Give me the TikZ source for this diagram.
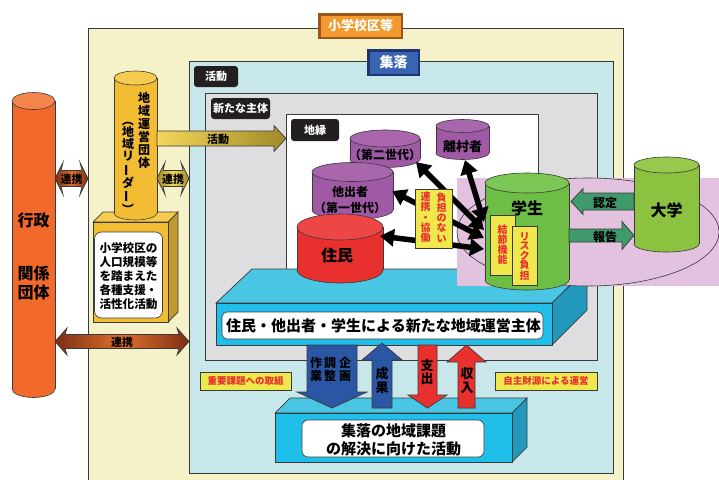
\documentclass[tikz,border=0pt]{standalone}
\usepackage{fontspec}
\setmainfont{Noto Sans CJK JP}
\usepackage{graphicx}
\usetikzlibrary{arrows.meta}
\definecolor{bgY}{HTML}{F5F2C9}
\definecolor{bgB}{HTML}{C8E7EB}
\definecolor{bgG}{HTML}{DEDEE0}
\definecolor{lineC}{HTML}{3A3A3A}
\definecolor{cOr}{HTML}{F2692C}
\definecolor{cOrT}{HTML}{F4844B}
\definecolor{cGold}{HTML}{F2BD33}
\definecolor{cGoldT}{HTML}{F7CB4C}
\definecolor{cGoldS}{HTML}{C09A2E}
\definecolor{cRed}{HTML}{E8302E}
\definecolor{cRedT}{HTML}{EE4545}
\definecolor{cPur}{HTML}{A05AA5}
\definecolor{cPurT}{HTML}{A866AC}
\definecolor{cGrn}{HTML}{6EBE45}
\definecolor{cGrnT}{HTML}{7CC655}
\definecolor{cGrnB}{HTML}{8DC140}
\definecolor{cGrnBT}{HTML}{98C84E}
\definecolor{cPink}{HTML}{E2C2DE}
\definecolor{cCy}{HTML}{1FBFE9}
\definecolor{cCyT}{HTML}{49C6E3}
\definecolor{cCyS}{HTML}{2298BD}
\definecolor{cArrG}{HTML}{3F9B6C}
\definecolor{cBlue}{HTML}{2A56A3}
\definecolor{cRedA}{HTML}{E8312F}
\definecolor{cY}{HTML}{EEE84C}
\definecolor{cLbl}{HTML}{231F20}
\definecolor{cBrD}{HTML}{7A2E14}
\definecolor{cBrM}{HTML}{E0702E}
\definecolor{cGoD}{HTML}{A08A2A}
\definecolor{cGoM}{HTML}{F3D65A}
\definecolor{cOrL}{HTML}{F39A2E}
\definecolor{cOrD}{HTML}{9A561C}
\definecolor{cBlL}{HTML}{3A63B1}
\definecolor{cBlD}{HTML}{1E3570}

\newcommand\fs[2]{\fontsize{#1}{#2}\selectfont\bfseries}
\newcommand\vbar{\rotatebox[origin=c]{90}{ー}}
\newcommand\vlp{\rotatebox[origin=c]{-90}{（}}
\newcommand\vrp{\rotatebox[origin=c]{-90}{）}}
% cylinder: cx, topcy, botcy, rx, ry, body, top
\newcommand\cyl[7]{%
  \fill[#6,draw=lineC,line width=0.6pt] (#1,#3) ellipse[x radius=#4,y radius=#5];
  \fill[#6] (#1-#4,#2) rectangle (#1+#4,#3);
  \draw[lineC,line width=0.6pt] (#1-#4,#2) -- (#1-#4,#3) (#1+#4,#2) -- (#1+#4,#3);
  \fill[#7,draw=lineC,line width=0.6pt] (#1,#2) ellipse[x radius=#4,y radius=#5];
}
% horizontal double arrow: x1,x2,yc,bh,hh,hl, style
\newcommand\harrD[7]{%
  \path[#7] (#1,#3) -- (#1+#6,#3-#5) -- (#1+#6-2,#3-#4) -- (#2-#6+2,#3-#4) -- (#2-#6,#3-#5) -- (#2,#3)
   -- (#2-#6,#3+#5) -- (#2-#6+2,#3+#4) -- (#1+#6-2,#3+#4) -- (#1+#6,#3+#5) -- cycle;
}
% horizontal single arrow: xstart, xtip, yc, bh, hh, hl (signed), style
\newcommand\harrS[7]{%
  \path[#7] (#1,#3-#4) -- (#2-#6,#3-#4) -- (#2-#6,#3-#5) -- (#2,#3) -- (#2-#6,#3+#5) -- (#2-#6,#3+#4) -- (#1,#3+#4) -- cycle;
}
% vertical single arrow: xc, ystart, ytip, bw, hw, hl(signed), style
\newcommand\varrS[7]{%
  \path[#7] (#1-#4,#2) -- (#1-#4,#3-#6) -- (#1-#5,#3-#6) -- (#1,#3) -- (#1+#5,#3-#6) -- (#1+#4,#3-#6) -- (#1+#4,#2) -- cycle;
}

\tikzset{
  ln/.style={draw=lineC,line width=0.7pt},
  blk/.style={fill=cLbl,rounded corners=3pt,text=white,font=\fs{11}{11},inner sep=0pt},
  ytag/.style={fill=cY,draw=lineC,line width=0.6pt,text=cRed,font=\fs{9.5}{10},inner sep=0pt},
  ctext/.style={font=\fs{#1}{#1},text=black,inner sep=0pt,align=center},
  ctext/.default=12,
  bigarr/.style={line width=5.5pt,{Triangle[length=14pt,width=17pt]}-{Triangle[length=14pt,width=17pt]}},
}

\begin{document}
\begin{tikzpicture}[x=1pt,y=-1pt]
\useasboundingbox (0,0) rectangle (719,479);
% nested areas
\path[ln,fill=bgY] (88,28) rectangle (623,486);
\path[ln,fill=bgB] (189,61) rectangle (613,473);
\path[ln,fill=bgG] (205,93) rectangle (597,360);
\path[ln,fill=white] (286,114) rectangle (538,300);

% area labels
\fill[cOrD] (318,13) rectangle (403,39);
\fill[cOrL] (320.5,15.5) rectangle (400.5,36.5);
\node[font=\fs{13}{13},text=white,inner sep=0pt] (lshogaku) at (360.5,26) {小学校区等};
\fill[cBlD] (367,49) rectangle (420,76);
\fill[cBlL] (369.5,51.5) rectangle (417.5,73.5);
\node[font=\fs{14}{14},text=white,inner sep=0pt] (lshuraku) at (393.5,62.5) {集落};
\node[blk,minimum width=44pt,minimum height=21pt] (lkatsudo) at (216,76.5) {活動};
\node[blk,minimum width=59pt,minimum height=21pt] (larata) at (240.5,108.5) {新たな主体};
\node[blk,minimum width=48pt,minimum height=22pt] (lchien) at (315,130) {地縁};

% 行政 cylinder
\cyl{33.5}{101}{389}{21.5}{8.5}{cOr}{cOrT}
\node[ctext=16] (gyosei) at (33.5,220) {行政};
\node[ctext=16,font=\fs{16}{19}] (kankei) at (33.5,283) {関係\\団体};

% gold box under leader cylinder
\path[ln,fill=cGoldT] (93,222) -- (103,212) -- (178,212) -- (168,222) -- cycle;
\path[ln,fill=cGoldS] (168,222) -- (178,212) -- (178,312) -- (168,322) -- cycle;
\path[ln,fill=cGold] (93,222) rectangle (168,322);
\node[draw=lineC,line width=0.6pt,fill=white,rounded corners=7pt,minimum width=68pt,minimum height=86pt,inner sep=0pt] (shienbox) at (128.5,275) {};
\node[ctext,font=\fs{11.6}{14}] (shien) at (128.5,276.5) {小学校区の\\人口規模等\\を踏まえた\\各種支援・\\活性化活動};

% leader cylinder
\cyl{135.5}{78}{213}{21.5}{7}{cGold}{cGoldT}
\node[ctext,font=\fs{12}{13}] (dantai) at (144,130.5) {地\\域\\運\\営\\団\\体};
\node[ctext,font=\fs{12}{12}] (leader) at (128,165) {\vlp\\地\\域\\リ\\\vbar\\ダ\\\vbar\\\vrp};

% 連携 arrows
\harrD{55}{88}{178.5}{8}{16}{8}{ln,left color=cBrD,right color=cBrD,middle color=cBrM}
\node[ctext=11] (renkei1) at (71.5,179) {連携};
\harrD{157}{189}{178.5}{8}{16}{8}{ln,left color=cGoD,right color=cGoD,middle color=cGoM}
\node[ctext=11] (renkei2) at (173,179) {連携};
\harrD{55}{189}{341.5}{7}{13.5}{12}{ln,left color=cBrD,right color=cBrD,middle color=cBrM}
\node[ctext=11] (renkei3) at (122,342) {連携};

% 活動 arrow
\harrS{157}{286}{138.5}{7.5}{13}{12}{ln,left color=cGoM,right color=cGoD}
\node[ctext=11] (katsudoA) at (218,139) {活動};

% big platform
\path[ln,fill=cCyT] (216,303) -- (252,269) -- (587,269) -- (552,303) -- cycle;
\path[ln,fill=cCyS] (552,303) -- (587,269) -- (587,310) -- (552,345) -- cycle;
\path[ln,fill=cCy] (216,303) rectangle (552,345);
\node[draw=lineC,line width=0.6pt,fill=white,rounded corners=5pt,minimum width=321pt,minimum height=27pt,inner sep=0pt] (mainlbl) at (382.5,325.5) {};
\node[ctext=15] (maintxt) at (383.5,326) {住民・他出者・学生による新たな地域運営主体};

% pink region & ellipse
\fill[cPink] (457,178) rectangle (719,286);
\draw[lineC,line width=0.6pt] (588,232) ellipse[x radius=131,y radius=54];

% local cylinders
\cyl{385}{138.5}{159}{35}{8.5}{cPur}{cPurT}
\node[ctext=12] (dai2) at (385,155) {（第二世代）};
\cyl{462.5}{126}{153}{26.5}{6.5}{cPur}{cPurT}
\node[ctext=13] (rison) at (462.5,146.5) {離村者};
\cyl{352.5}{172}{210}{40.5}{9.5}{cPur}{cPurT}
\node[ctext,font=\fs{12}{15.5}] (tashutsu) at (350,200) {他出者\\（第一世代）};
\cyl{340}{227}{270}{43}{13}{cRed}{cRedT}
\node[ctext=16] (jumin) at (337,255.5) {住民};
\cyl{527}{183}{280}{42}{10}{cGrn}{cGrnT}
\node[ctext=16] (gakusei) at (527,208.5) {学生};
\cyl{666.5}{165}{244}{32.5}{8}{cGrnB}{cGrnBT}
\node[ctext=16] (daigaku) at (666.5,210.5) {大学};

% green arrows between student and university
\harrS{634}{571}{201.5}{8.5}{13}{-12}{ln,fill=cArrG}
\node[ctext=12] (nintei) at (605,203) {認定};
\harrS{569}{634}{235.5}{6.5}{14}{12}{ln,fill=cArrG}
\node[ctext=12] (hokoku) at (605,237) {報告};

% student inner boxes
\node[ytag,minimum width=25pt,minimum height=60pt] (kessetsuB) at (502.5,245) {};
\node[ctext,font=\fs{10}{10},text=cRed] (kessetsu) at (502.5,245) {結\\節\\機\\能};
\node[ytag,minimum width=25pt,minimum height=59pt] (riskB) at (524.5,255.5) {};
\node[ctext,font=\fs{10}{9.5},text=cRed] (risk) at (524.5,256.5) {リ\\ス\\ク\\負\\担};

% connection arrows
\coordinate (eR) at (465,160);
\coordinate (e2) at (416,162);
\coordinate (e1) at (392,191);
\coordinate (eJ) at (380,236);
\coordinate (sA) at (484,222);
\coordinate (sB) at (484,230);
\coordinate (sC) at (484,238);
\coordinate (sD) at (484,249);
\draw[bigarr] (eR) -- (sA);
\draw[bigarr] (e2) -- (sB);
\draw[bigarr] (e1) -- (sC);
\draw[bigarr] (eJ) -- (sD);

% 負担のない box
\node[ytag,minimum width=37pt,minimum height=59pt] (futanB) at (433.5,218.5) {};
\node[ctext,font=\fs{10}{10.3},text=cRed] (futan) at (441.5,217.5) {負\\担\\の\\な\\い};
\node[ctext,font=\fs{10}{10.3},text=cRed] (renkeiK) at (425.5,217.5) {連\\携\\・\\協\\働};

% bottom platform
\path[ln,fill=cCyT] (275,413) -- (290,398) -- (527,398) -- (512,413) -- cycle;
\path[ln,fill=cCyS] (512,413) -- (527,398) -- (527,447) -- (512,462) -- cycle;
\path[ln,fill=cCy] (275,413) rectangle (512,462);
\node[draw=lineC,line width=0.6pt,fill=white,rounded corners=6pt,minimum width=182pt,minimum height=37pt,inner sep=0pt] (botlbl) at (393,438.5) {};
\node[ctext,font=\fs{15}{18}] (bottxt) at (393.5,439.5) {集落の地域課題\\の解決に向けた活動};

% vertical arrows
\varrS{332}{345}{408}{25}{35}{16}{ln,fill=cBlue}
\node[ctext,font=\fs{12}{13.5}] (kikaku) at (345,369.5) {企\\画};
\node[ctext,font=\fs{12}{13.5}] (chosei) at (330,369.5) {調\\整};
\node[ctext,font=\fs{12}{13.5}] (sagyo) at (316,369.5) {作\\業};
\varrS{382}{408}{343}{10}{20}{-17}{ln,fill=cBlue}
\node[ctext,font=\fs{13}{14}] (seika) at (382,380.5) {成\\果};
\varrS{427.5}{345}{408}{9.5}{19.5}{13}{ln,fill=cRedA}
\node[ctext,font=\fs{13}{13.5}] (shishutsu) at (427,372) {支\\出};
\varrS{466.5}{408}{345}{8.5}{19.5}{-17}{ln,fill=cRedA}
\node[ctext,font=\fs{13}{14}] (shunyu) at (467,380.5) {収\\入};

% yellow tags
\node[ytag,minimum width=91pt,minimum height=18pt] (juyo) at (245.5,381) {重要課題への取組};
\node[ytag,minimum width=102pt,minimum height=18pt] (jishu) at (546,381) {自主財源による運営};
\end{tikzpicture}
\end{document}
